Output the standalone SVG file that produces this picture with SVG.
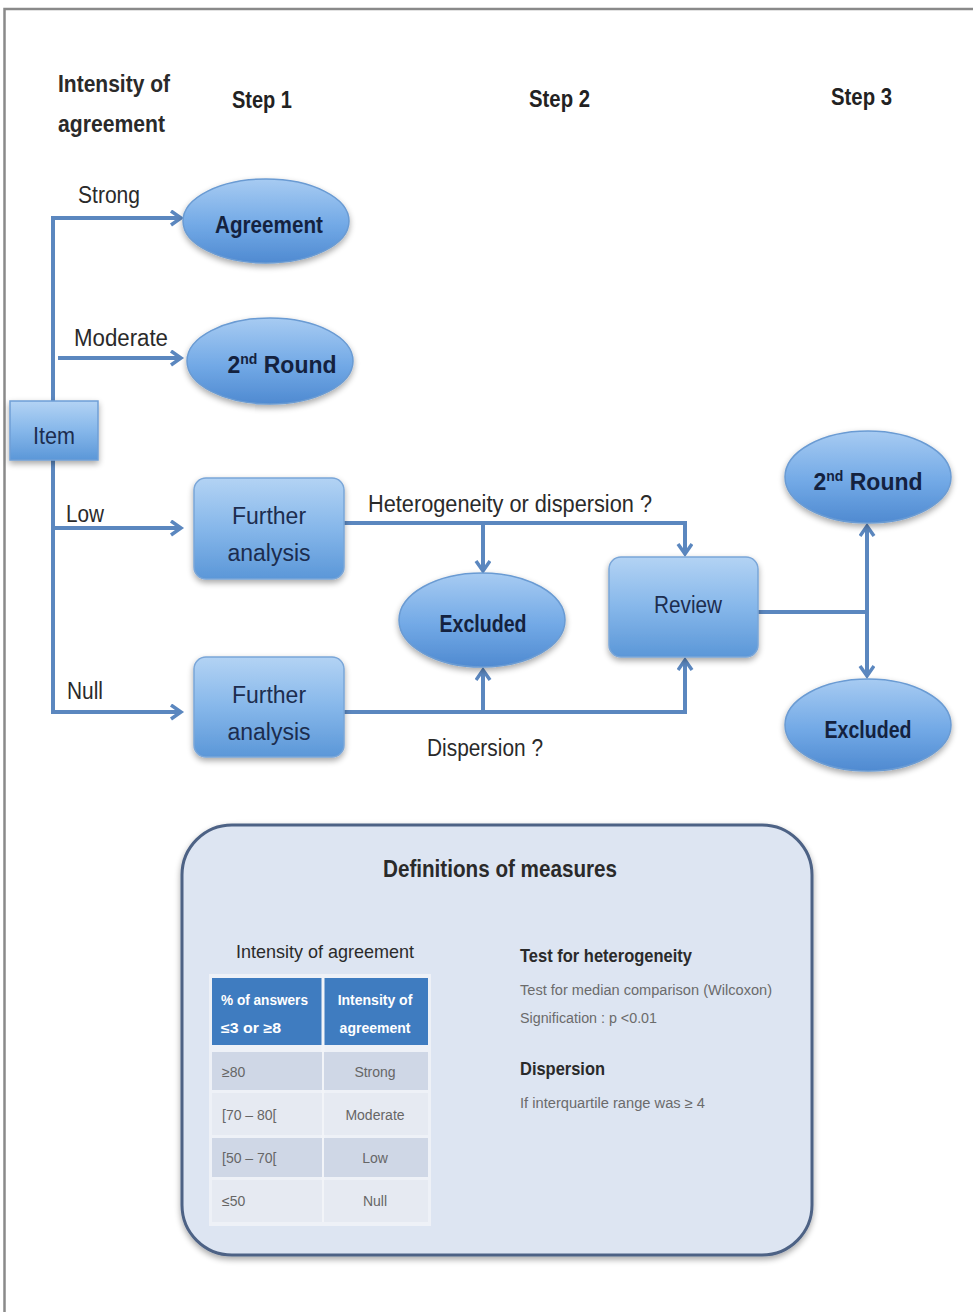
<svg xmlns="http://www.w3.org/2000/svg" width="973" height="1312" viewBox="0 0 973 1312">
<style>
.lbl{font-family:"Liberation Sans",Arial,sans-serif;font-size:23px;fill:#2a2a2a}
.hdr{font-family:"Liberation Sans",Arial,sans-serif;font-size:23px;font-weight:bold;fill:#222}
.nt{font-family:"Liberation Sans",Arial,sans-serif;font-size:23px;fill:#1c2d4f;text-anchor:middle}
.nb{font-family:"Liberation Sans",Arial,sans-serif;font-size:23px;font-weight:bold;fill:#14223f;text-anchor:middle}
.con{fill:none;stroke:#5b87bf;stroke-width:4}
.box{fill:url(#gBox);stroke:#7aa6d8;stroke-width:1.5;filter:url(#sh)}
.ell{fill:url(#gEll);stroke:#6a9bd3;stroke-width:1.5;filter:url(#sh)}
.th{font-family:"Liberation Sans",Arial,sans-serif;font-size:14px;font-weight:bold;fill:#fff}
.td{font-family:"Liberation Sans",Arial,sans-serif;font-size:14px;fill:#666}
.dh{font-family:"Liberation Sans",Arial,sans-serif;font-size:19px;font-weight:bold;fill:#2a2a2a}
.dt{font-family:"Liberation Sans",Arial,sans-serif;font-size:14px;fill:#6b6b6b}
</style>
<defs>
<linearGradient id="gBox" x1="0" y1="0" x2="0" y2="1">
<stop offset="0" stop-color="#b3d3f4"/><stop offset="0.5" stop-color="#86b7ea"/><stop offset="1" stop-color="#5b97d8"/>
</linearGradient>
<linearGradient id="gEll" x1="0" y1="0" x2="0" y2="1">
<stop offset="0" stop-color="#a7cbf2"/><stop offset="0.55" stop-color="#72a9e6"/><stop offset="1" stop-color="#4f8ad1"/>
</linearGradient>
<filter id="sh" x="-20%" y="-20%" width="140%" height="150%">
<feGaussianBlur in="SourceAlpha" stdDeviation="3"/><feOffset dx="0" dy="3" result="b"/>
<feComponentTransfer><feFuncA type="linear" slope="0.35"/></feComponentTransfer>
<feMerge><feMergeNode/><feMergeNode in="SourceGraphic"/></feMerge>
</filter>
<marker id="arr" markerUnits="userSpaceOnUse" markerWidth="20" markerHeight="20" refX="12" refY="8" orient="auto">
<path d="M2,1 L12,8 L2,15" fill="none" stroke="#5b87bf" stroke-width="3.5" stroke-linejoin="miter"/>
</marker>
</defs>
<rect width="973" height="1312" fill="#fff"/>
<path d="M4.5,1312 V9 H973" fill="none" stroke="#8a8a8a" stroke-width="2.5"/>

<g id="headers">
<text class="lbl" x="58" y="92" textLength="112" lengthAdjust="spacingAndGlyphs" style="font-weight:bold;fill:#2a2a2a">Intensity of</text>
<text class="lbl" x="58" y="132" textLength="107" lengthAdjust="spacingAndGlyphs" style="font-weight:bold;fill:#2a2a2a">agreement</text>
<text class="hdr" x="232" y="108" textLength="60" lengthAdjust="spacingAndGlyphs">Step 1</text>
<text class="hdr" x="529" y="107" textLength="61" lengthAdjust="spacingAndGlyphs">Step 2</text>
<text class="hdr" x="831" y="105" textLength="61" lengthAdjust="spacingAndGlyphs">Step 3</text>
</g>

<g id="connectors">
<path class="con" d="M53,401 V218 H181" marker-end="url(#arr)"/>
<path class="con" d="M58,358 H181" marker-end="url(#arr)"/>
<path class="con" d="M53,460 V712 H181" marker-end="url(#arr)"/>
<path class="con" d="M53,528 H181" marker-end="url(#arr)"/>
<path class="con" d="M344,523 H685 V554" marker-end="url(#arr)"/>
<path class="con" d="M483,523 V571" marker-end="url(#arr)"/>
<path class="con" d="M344,712 H685 V660" marker-end="url(#arr)"/>
<path class="con" d="M483,712 V670" marker-end="url(#arr)"/>
<path class="con" d="M758,612 H867"/>
<path class="con" d="M867,612 V526" marker-end="url(#arr)"/>
<path class="con" d="M867,612 V676" marker-end="url(#arr)"/>
<text class="lbl" x="78" y="203" textLength="62" lengthAdjust="spacingAndGlyphs">Strong</text>
<text class="lbl" x="74" y="346" textLength="94" lengthAdjust="spacingAndGlyphs">Moderate</text>
<text class="lbl" x="66" y="522" textLength="38" lengthAdjust="spacingAndGlyphs">Low</text>
<text class="lbl" x="67" y="699" textLength="36" lengthAdjust="spacingAndGlyphs">Null</text>
<text class="lbl" x="368" y="512" textLength="284" lengthAdjust="spacingAndGlyphs">Heterogeneity or dispersion ?</text>
<text class="lbl" x="427" y="756" textLength="116" lengthAdjust="spacingAndGlyphs">Dispersion ?</text>
</g>

<g id="item">
<rect class="box" x="10" y="401" width="88" height="59" style="stroke:#6f9fd6"/>
<text class="nt" x="54" y="444" textLength="42" lengthAdjust="spacingAndGlyphs">Item</text>
</g>

<g id="agreement">
<ellipse class="ell" cx="266" cy="221" rx="83" ry="42"/>
<text class="nb" x="269" y="233" textLength="108" lengthAdjust="spacingAndGlyphs">Agreement</text>
</g>

<g id="round2a">
<ellipse class="ell" cx="270" cy="361" rx="83" ry="43"/>
<text class="nb" x="282" y="373"><tspan>2</tspan><tspan dy="-9" font-size="14">nd</tspan><tspan dy="9"> Round</tspan></text>
</g>

<g id="further1">
<rect class="box" x="194" y="478" width="150" height="101" rx="12"/>
<text class="nt" x="269" y="524">Further</text>
<text class="nt" x="269" y="561">analysis</text>
</g>

<g id="further2">
<rect class="box" x="194" y="657" width="150" height="100" rx="12"/>
<text class="nt" x="269" y="703">Further</text>
<text class="nt" x="269" y="740">analysis</text>
</g>

<g id="excluded1">
<ellipse class="ell" cx="482" cy="620" rx="83" ry="47"/>
<text class="nb" x="483" y="632" textLength="87" lengthAdjust="spacingAndGlyphs">Excluded</text>
</g>

<g id="review">
<rect class="box" x="609" y="557" width="149" height="100" rx="12"/>
<text class="nt" x="688" y="613" textLength="68" lengthAdjust="spacingAndGlyphs">Review</text>
</g>

<g id="round2b">
<ellipse class="ell" cx="868" cy="477" rx="83" ry="46"/>
<text class="nb" x="868" y="490"><tspan>2</tspan><tspan dy="-9" font-size="14">nd</tspan><tspan dy="9"> Round</tspan></text>
</g>

<g id="excluded2">
<ellipse class="ell" cx="868" cy="725" rx="83" ry="46"/>
<text class="nb" x="868" y="738" textLength="87" lengthAdjust="spacingAndGlyphs">Excluded</text>
</g>

<g id="definitions">
<rect x="182" y="825" width="630" height="430" rx="50" fill="#dde5f2" stroke="#4d6285" stroke-width="3" filter="url(#sh)"/>
<text class="dh" x="500" y="877" text-anchor="middle" font-size="24" textLength="234" lengthAdjust="spacingAndGlyphs" style="font-size:24px">Definitions of measures</text>
<text class="dh" x="236" y="958" textLength="178" lengthAdjust="spacingAndGlyphs" style="font-weight:normal;font-size:19px">Intensity of agreement</text>
<rect x="209" y="974" width="222" height="252" fill="#eef1f7"/>
<rect x="212" y="978" width="216" height="67" fill="#3f7cc0"/>
<line x1="323" y1="978" x2="323" y2="1222" stroke="#f2f4f8" stroke-width="3"/>
<rect x="212" y="1052" width="110" height="38" fill="#cfd7e6"/>
<rect x="324" y="1052" width="104" height="38" fill="#cfd7e6"/>
<rect x="212" y="1093" width="110" height="42" fill="#e6eaf2"/>
<rect x="324" y="1093" width="104" height="42" fill="#e6eaf2"/>
<rect x="212" y="1138" width="110" height="39" fill="#cfd7e6"/>
<rect x="324" y="1138" width="104" height="39" fill="#cfd7e6"/>
<rect x="212" y="1180" width="110" height="42" fill="#e6eaf2"/>
<rect x="324" y="1180" width="104" height="42" fill="#e6eaf2"/>
<text class="th" x="221" y="1005" textLength="87" lengthAdjust="spacingAndGlyphs">% of answers</text>
<text class="th" x="221" y="1033" textLength="60" lengthAdjust="spacingAndGlyphs">≤3 or ≥8</text>
<text class="th" x="375" y="1005" text-anchor="middle">Intensity of</text>
<text class="th" x="375" y="1033" text-anchor="middle">agreement</text>
<text class="td" x="222" y="1077">≥80</text>
<text class="td" x="375" y="1077" text-anchor="middle">Strong</text>
<text class="td" x="222" y="1120">[70 – 80[</text>
<text class="td" x="375" y="1120" text-anchor="middle">Moderate</text>
<text class="td" x="222" y="1163">[50 – 70[</text>
<text class="td" x="375" y="1163" text-anchor="middle">Low</text>
<text class="td" x="222" y="1206">≤50</text>
<text class="td" x="375" y="1206" text-anchor="middle">Null</text>
<text class="dh" x="520" y="962" textLength="172" lengthAdjust="spacingAndGlyphs">Test for heterogeneity</text>
<text class="dt" x="520" y="995" textLength="252" lengthAdjust="spacingAndGlyphs">Test for median comparison (Wilcoxon)</text>
<text class="dt" x="520" y="1023" textLength="137" lengthAdjust="spacingAndGlyphs">Signification : p &lt;0.01</text>
<text class="dh" x="520" y="1075" textLength="85" lengthAdjust="spacingAndGlyphs">Dispersion</text>
<text class="dt" x="520" y="1108" textLength="185" lengthAdjust="spacingAndGlyphs">If interquartile range was ≥ 4</text>
</g>
</svg>
